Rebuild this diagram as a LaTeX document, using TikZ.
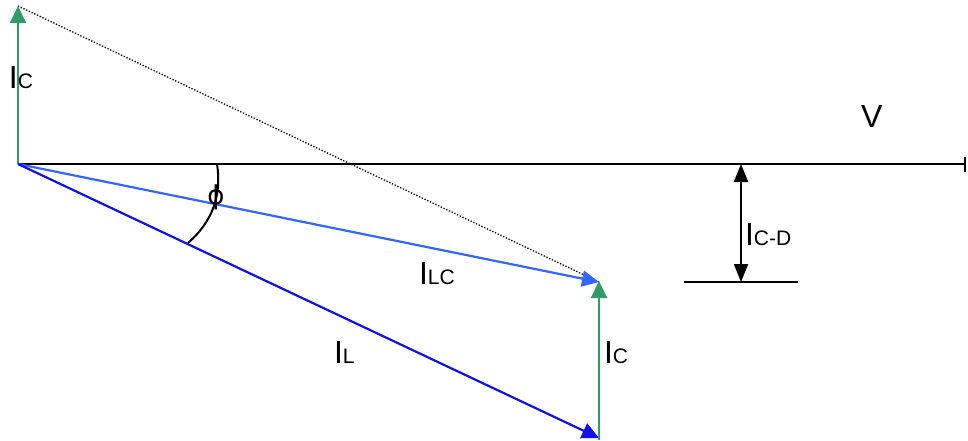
\documentclass[tikz,border=0pt]{standalone}
\usepackage{fontspec}
\setmainfont{Liberation Sans}
\newfontfamily\symfont{DejaVu Sans}
\usetikzlibrary{arrows.meta}
\definecolor{vgreen}{RGB}{51,153,102}
\definecolor{vlblue}{RGB}{51,102,255}
\definecolor{vdblue}{RGB}{16,16,235}
\newcommand\bigI{{\fontsize{32}{32}\selectfont I}}
\newcommand\smallsub[1]{{\fontsize{21}{21}\selectfont #1}}
\begin{document}
\begin{tikzpicture}[x=1pt,y=-1pt,
  vec/.style={line width=2.2pt,-{Triangle[length=17pt,width=16pt]}},
  lbl/.style={anchor=base west,inner sep=0pt,outer sep=0pt}]
\useasboundingbox (0,0) rectangle (968,440);
\coordinate (O) at (18,164);
\coordinate (Ctop) at (18,6);
\coordinate (LC) at (599,282);
\coordinate (L) at (599,438);
\coordinate (Lb) at (599,440);
\coordinate (Vend) at (966,164);
\coordinate (D1) at (741,164);
\coordinate (D2) at (741,282);
\coordinate (H1) at (684,282);
\coordinate (H2) at (798,282);
\coordinate (A1) at (217,164);
\coordinate (A2) at (188,243);
% dotted
\draw[line width=1.3pt,dash pattern=on 1.3pt off 1.7pt] (Ctop) -- (LC);
% V axis
\draw[line width=2pt,-{Bar[width=15pt,line width=2pt]}] (O) -- (Vend);
% vectors
\draw[vec,vgreen] (O) -- (Ctop);
\draw[vec,vlblue] (O) -- (LC);
\draw[vec,vdblue] (O) -- (L);
\draw[vec,vgreen] (Lb) -- ([yshift=1pt]LC);
% IC-D dimension
\draw[line width=2pt,{Triangle[length=18pt,width=14pt]}-{Triangle[length=18pt,width=14pt]}] (D1) -- (D2);
\draw[line width=2pt] (H1) -- (H2);
% angle
\draw[line width=2pt] (A1) .. controls (222,196) and (212,222) .. (A2);
\node[inner sep=0pt] (phi) at (216,197.5) {\symfont\fontsize{26}{26}\selectfont ϕ};
% labels
\node[lbl] (lIC1) at (9,88) {\bigI\smallsub{C}};
\node[lbl] (lILC) at (419,284) {\bigI\smallsub{LC}};
\node[lbl] (lIL) at (334,363) {\bigI\smallsub{L}};
\node[lbl] (lIC2) at (604,363) {\bigI\smallsub{C}};
\node[lbl] (lICD) at (745,245) {\bigI\smallsub{C-D}};
\node[lbl] (lV) at (861,127) {\fontsize{32}{32}\selectfont V};
\end{tikzpicture}
\end{document}
